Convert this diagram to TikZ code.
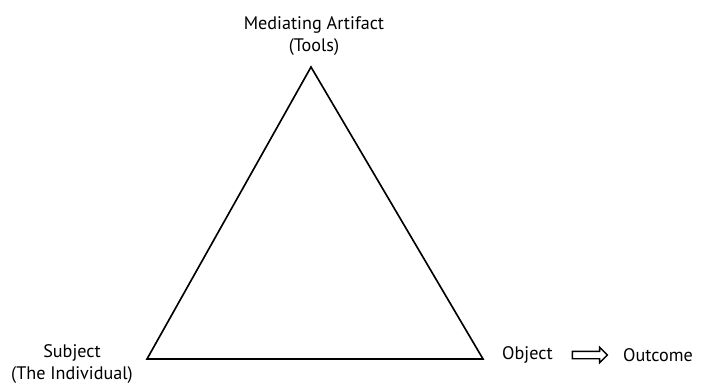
\documentclass[tikz,border=0pt]{standalone}
\usepackage{fontspec}
\setmainfont{PT Sans}
\usetikzlibrary{shapes.arrows,calc}
\begin{document}
\begin{tikzpicture}[x=0.03cm,y=-0.03cm,
  lbl/.style={font=\fontsize{15.5}{19}\selectfont, align=center, inner sep=0pt}]
\useasboundingbox (0,0) rectangle (701,388);
\coordinate (tool) at (311,67);
\coordinate (subj) at (147,359);
\coordinate (obj) at (483,359);
\draw[line width=1.4pt, line join=miter](subj)--(tool)--(obj)--cycle;
\node[lbl] (toolname) at (314,36) {Mediating Artifact\\(Tools)};
\node[lbl] (subjname) at (72,364) {Subject\\(The Individual)};
\node[lbl, anchor=west] (objname) at (502,355) {Object};
\node[lbl, anchor=west] (outname) at (623,355) {Outcome};
\node[single arrow, draw, line width=1.2pt, minimum height=1.05cm, inner sep=0.09cm,
  single arrow head extend=0.12cm, single arrow head indent=0pt] (flow) at ($(objname.east)!0.5!(outname.west)$) {};
\end{tikzpicture}
\end{document}
